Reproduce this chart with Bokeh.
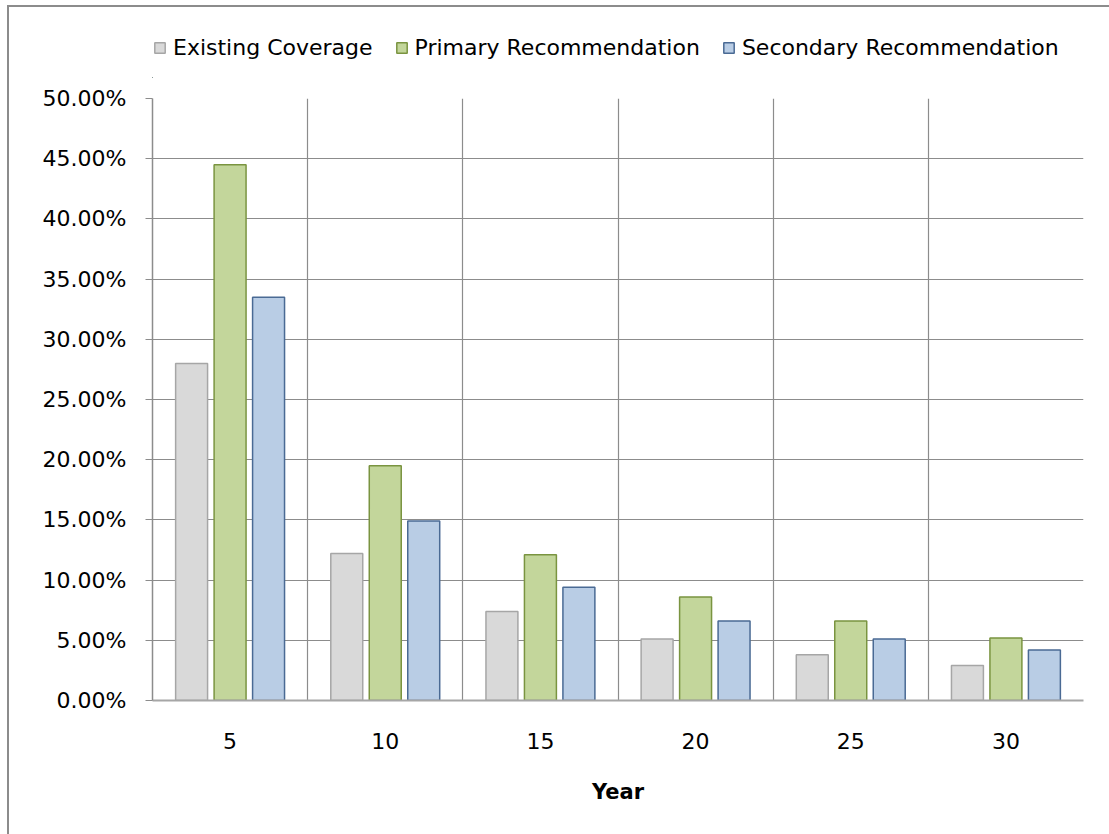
from bokeh.plotting import figure
from bokeh.layouts import column
from bokeh.models import (Range1d, FixedTicker, NumeralTickFormatter, Legend, LegendItem,
                          ColumnDataSource)
from bokeh.embed import file_html
from bokeh.resources import INLINE

years = ["5", "10", "15", "20", "25", "30"]
existing = [0.280, 0.122, 0.074, 0.051, 0.038, 0.029]
primary = [0.445, 0.195, 0.121, 0.086, 0.066, 0.052]
secondary = [0.335, 0.149, 0.094, 0.066, 0.051, 0.042]
series_names = ["Existing Coverage", "Primary Recommendation", "Secondary Recommendation"]
y_ticks = [0.0, 0.05, 0.10, 0.15, 0.20, 0.25, 0.30, 0.35, 0.40, 0.45, 0.50]

FONT = "DejaVu Sans"
centers = [i + 0.5 for i in range(len(years))]
styles = [("#d9d9d9", "#a6a6a6"), ("#c3d69b", "#7a9440"), ("#b9cde5", "#4a6a94")]
offsets = [-0.248, 0.0, 0.248]
data = [existing, primary, secondary]

# outer chart border (left + top edge) drawn via CSS on the layout host
OFF_X, OFF_Y, BW = 7, 5, 2
TOTAL_W = 1109 - OFF_X - BW
LEG_H = 71

# ---- legend strip (its own renderers lie far outside its visible ranges) ----
lf = figure(width=TOTAL_W, height=LEG_H, min_border=0,
            x_range=Range1d(1000, 1006), y_range=Range1d(1000, 1001),
            x_axis_location=None, y_axis_location=None,
            output_backend="svg", toolbar_location=None, tools="")
lf.outline_line_color = None
lf.xgrid.visible = False
lf.ygrid.visible = False
lf.background_fill_color = "white"
lf.border_fill_color = "white"
leg_rends = []
for vals, (fc, lc), off in zip(data, styles, offsets):
    src = ColumnDataSource(dict(x=[c + off for c in centers], top=vals))
    leg_rends.append(lf.vbar(x="x", top="top", bottom=0, width=0.206, source=src,
                             fill_color=fc, line_color=lc, line_width=1.5))
legend = Legend(items=[LegendItem(label=n, renderers=[r]) for n, r in zip(series_names, leg_rends)],
                orientation="horizontal", location=(1, 18),
                glyph_width=13, glyph_height=13, label_standoff=7, spacing=22,
                label_text_font=FONT, label_text_font_size="22px", label_text_color="#000000",
                border_line_color=None, background_fill_alpha=0, padding=3, margin=0)
lf.add_layout(legend, "center")

# ---- main chart ----
p = figure(frame_width=931, frame_height=602,
           width=TOTAL_W, height=834 - OFF_Y - BW - LEG_H,
           min_border_left=152 - OFF_X - BW, min_border_right=26,
           min_border_top=98 - OFF_Y - BW - LEG_H, min_border_bottom=134,
           x_range=Range1d(0, 6), y_range=Range1d(0, 0.5),
           output_backend="svg", toolbar_location=None, tools="")
p.background_fill_color = "white"
p.border_fill_color = "white"
p.outline_line_color = None

for vals, (fc, lc), off in zip(data, styles, offsets):
    src = ColumnDataSource(dict(x=[c + off for c in centers], top=vals))
    p.vbar(x="x", top="top", bottom=0, width=0.206, source=src,
           fill_color=fc, line_color=lc, line_width=1.5)

p.xaxis.ticker = FixedTicker(ticks=centers)
p.xaxis.major_label_overrides = {c: y for c, y in zip(centers, years)}
p.xaxis.major_tick_line_color = None
p.xaxis.minor_tick_line_color = None
p.xaxis.axis_line_color = "#a6a6a6"
p.xaxis.axis_line_width = 2
p.xaxis.major_label_text_font = FONT
p.xaxis.major_label_text_font_size = "22px"
p.xaxis.major_label_text_color = "#000000"
p.xaxis.major_label_standoff = 26
p.xaxis.axis_label = "Year"
p.xaxis.axis_label_text_font = FONT
p.xaxis.axis_label_text_font_style = "bold"
p.xaxis.axis_label_text_font_size = "21px"
p.xaxis.axis_label_text_color = "#000000"
p.xaxis.axis_label_standoff = 28

p.yaxis.ticker = FixedTicker(ticks=y_ticks)
p.yaxis.formatter = NumeralTickFormatter(format="0.00%")
p.yaxis.major_tick_out = 7
p.yaxis.major_tick_in = 0
p.yaxis.minor_tick_line_color = None
p.yaxis.major_tick_line_color = "#8c8c8c"
p.yaxis.axis_line_color = "#8c8c8c"
p.yaxis.axis_line_width = 1.5
p.yaxis.major_label_text_font = FONT
p.yaxis.major_label_text_font_size = "22px"
p.yaxis.major_label_text_color = "#000000"
p.yaxis.major_label_standoff = 19

p.xgrid.ticker = FixedTicker(ticks=[0, 1, 2, 3, 4, 5, 6])
p.xgrid.grid_line_color = "#8c8c8c"
p.xgrid.grid_line_width = 1.2
p.ygrid.ticker = FixedTicker(ticks=y_ticks)
p.ygrid.grid_line_color = "#8c8c8c"
p.ygrid.grid_line_width = 1.2

layout = column(lf, p, spacing=0,
                styles={"margin-left": f"{OFF_X}px", "margin-top": f"{OFF_Y}px",
                        "border-left": f"{BW}px solid #8c8c8c",
                        "border-top": f"{BW}px solid #8c8c8c"})

open("out.html", "w").write(file_html(layout, INLINE))
